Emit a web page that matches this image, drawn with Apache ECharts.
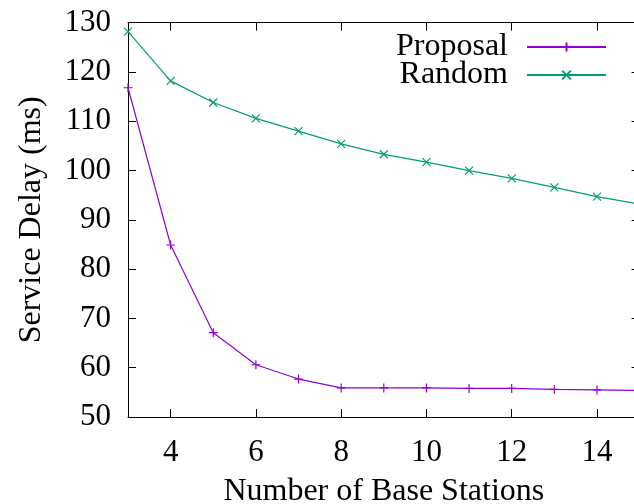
<!DOCTYPE html>
<html>
<head>
<meta charset="utf-8">
<script src="https://cdn.jsdelivr.net/npm/echarts@6/dist/echarts.min.js"></script>
<style>html,body{margin:0;padding:0;background:#fff;}#c{width:634px;height:504px;}</style>
</head>
<body>
<div id="c"></div>
<script>
const xValues = [3, 4, 5, 6, 7, 8, 9, 10, 11, 12, 13, 14, 15];
const proposal = [116.8, 84.9, 67.1, 60.6, 57.7, 55.9, 55.9, 55.9, 55.8, 55.8, 55.6, 55.5, 55.4];
const random = [128.2, 118.2, 113.8, 110.6, 108.0, 105.4, 103.3, 101.7, 100.0, 98.4, 96.6, 94.7, 93.2];
const xTicks = [4, 6, 8, 10, 12, 14];
const seriesNames = ['Proposal', 'Random'];
const xName = 'Number of Base Stations';
const yName = 'Service Delay (ms)';

const FONT = 'Liberation Serif';
const PURPLE = '#9400d3';
const GREEN = '#009e73';
const PLUS = 'path://M0,4L8,4M4,0L4,8';
const CROSS = 'path://M0,0L8,8M8,0L0,8';

const chart = echarts.init(document.getElementById('c'), null, {renderer: 'canvas'});
const axisLine = {show: true, lineStyle: {color: '#000', width: 1}};
const tick = {show: true, inside: true, length: 8, lineStyle: {color: '#000', width: 1}};

chart.setOption({
  animation: false,
  backgroundColor: '#fff',
  grid: {left: 128, right: -5.6, top: 22.7, bottom: 87, containLabel: false, outerBoundsMode: 'none'},
  legend: {
    orient: 'vertical',
    align: 'right',
    right: 27,
    top: 31,
    padding: 0,
    itemWidth: 79,
    itemHeight: 11,
    itemGap: -4,
    textStyle: {fontFamily: FONT, fontSize: 32, color: '#000', lineHeight: 29, padding: [0, 14, 0, 0]},
    data: seriesNames
  },
  xAxis: [{
    type: 'value', min: 3, max: 15, position: 'bottom',
    name: xName, nameLocation: 'middle', nameGap: 59,
    nameTextStyle: {fontFamily: FONT, fontSize: 32, color: '#000'},
    axisLine: axisLine,
    axisTick: Object.assign({customValues: xTicks}, tick),
    axisLabel: {customValues: xTicks, fontFamily: FONT, fontSize: 31, color: '#000', margin: 20},
    splitLine: {show: false}
  }, {
    type: 'value', min: 3, max: 15, position: 'top',
    axisLine: axisLine,
    axisTick: Object.assign({customValues: xTicks}, tick),
    axisLabel: {show: false},
    splitLine: {show: false}
  }],
  yAxis: [{
    type: 'value', min: 50, max: 130, interval: 10, position: 'left',
    name: yName, nameLocation: 'middle', nameGap: 80, nameRotate: 90,
    nameTextStyle: {fontFamily: FONT, fontSize: 32, color: '#000'},
    axisLine: axisLine,
    axisTick: tick,
    axisLabel: {fontFamily: FONT, fontSize: 31, color: '#000', margin: 17},
    splitLine: {show: false}
  }, {
    type: 'value', min: 50, max: 130, interval: 10, position: 'right',
    axisLine: axisLine,
    axisTick: tick,
    axisLabel: {show: false},
    splitLine: {show: false}
  }],
  series: [{
    name: seriesNames[0], type: 'line',
    data: xValues.map((x, i) => [x, proposal[i]]),
    symbol: PLUS, symbolSize: 9,
    lineStyle: {color: PURPLE, width: 1.2},
    itemStyle: {color: PURPLE, borderColor: PURPLE, borderWidth: 1.2},
    clip: true
  }, {
    name: seriesNames[1], type: 'line',
    data: xValues.map((x, i) => [x, random[i]]),
    symbol: CROSS, symbolSize: 8,
    lineStyle: {color: GREEN, width: 1.2},
    itemStyle: {color: GREEN, borderColor: GREEN, borderWidth: 1.2},
    clip: true
  }]
});
</script>
</body>
</html>
